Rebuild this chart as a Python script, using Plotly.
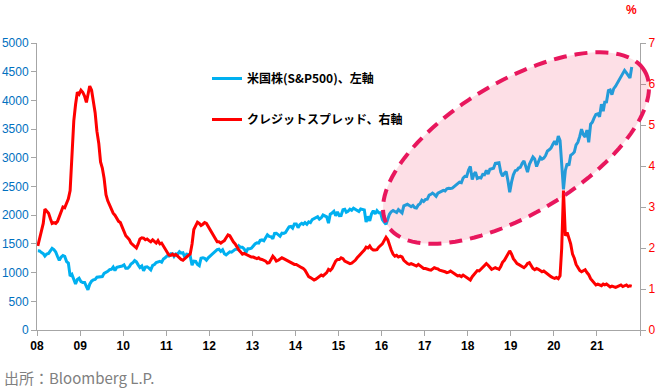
import datetime as dt
import numpy as np
import plotly.graph_objects as go

# ---------------- data (semi-monthly readings, 2008-01 .. 2021-10) ----------------
sp500_2008 = [1380, 1378, 1349, 1331, 1288, 1323, 1334, 1386, 1423, 1400, 1360, 1280,
              1214, 1267, 1298, 1283, 1193, 1166, 940, 969, 880, 800, 880, 903]
sp500_2009 = [843, 826, 827, 745, 700, 798, 852, 873, 882, 919, 923, 919,
              932, 987, 1004, 1021, 1052, 1057, 1096, 1036, 1093, 1096, 1107, 1115]
sp500_2010 = [1136, 1074, 1075, 1104, 1150, 1169, 1211, 1187, 1135, 1089, 1115, 1031,
              1096, 1102, 1079, 1049, 1126, 1141, 1176, 1183, 1197, 1181, 1236, 1258]
sp500_2011 = [1293, 1286, 1328, 1327, 1281, 1326, 1320, 1364, 1338, 1345, 1265, 1321,
              1316, 1292, 1130, 1200, 1195, 1140, 1120, 1250, 1258, 1247, 1216, 1258]
sp500_2012 = [1289, 1312, 1344, 1366, 1402, 1408, 1370, 1398, 1330, 1310, 1343, 1362,
              1356, 1379, 1405, 1407, 1466, 1441, 1440, 1412, 1353, 1416, 1414, 1426]
sp500_2013 = [1472, 1498, 1520, 1515, 1561, 1569, 1553, 1598, 1658, 1631, 1626, 1590,
              1682, 1686, 1661, 1633, 1688, 1682, 1698, 1757, 1798, 1806, 1775, 1848]
sp500_2014 = [1848, 1783, 1838, 1859, 1841, 1872, 1842, 1884, 1870, 1924, 1937, 1960,
              1973, 1931, 1955, 2003, 1984, 1972, 1862, 2018, 2039, 2068, 1990, 2059]
sp500_2015 = [1992, 1995, 2097, 2105, 2053, 2068, 2106, 2086, 2123, 2107, 2084, 2063,
              2108, 2104, 2092, 1880, 1979, 1900, 2024, 2079, 2023, 2080, 2043, 2044]
sp500_2016 = [1922, 1880, 1840, 1932, 2016, 2060, 2081, 2065, 2047, 2097, 2072, 2040,
              2162, 2174, 2190, 2171, 2147, 2168, 2133, 2126, 2180, 2199, 2262, 2239]
sp500_2017 = [2275, 2279, 2349, 2364, 2385, 2363, 2329, 2384, 2402, 2412, 2433, 2423,
              2459, 2470, 2464, 2472, 2500, 2519, 2553, 2575, 2565, 2648, 2676, 2674]
sp500_2018 = [2786, 2850, 2620, 2714, 2748, 2641, 2656, 2648, 2711, 2705, 2780, 2718,
              2801, 2816, 2819, 2902, 2905, 2914, 2750, 2680, 2730, 2760, 2600, 2400]
sp500_2019 = [2580, 2704, 2776, 2784, 2822, 2834, 2905, 2946, 2850, 2752, 2887, 2942,
              3014, 2980, 2848, 2926, 3007, 2977, 2996, 3038, 3120, 3141, 3169, 3231]
sp500_2020 = [3289, 3226, 3380, 3300, 2800, 2450, 2780, 2900, 2864, 3044, 3067, 3100,
              3227, 3271, 3373, 3500, 3401, 3363, 3483, 3270, 3585, 3622, 3695, 3756]
sp500_2021 = [3768, 3714, 3934, 3811, 3969, 3973, 4170, 4181, 4100, 4204, 4246, 4298,
              4360, 4395, 4468, 4523, 4480, 4440, 4390, 4580]

spread_2008 = [2.05, 2.25, 2.45, 2.6, 2.95, 2.9, 2.85, 2.72, 2.6, 2.62, 2.6, 2.65,
               2.78, 2.9, 3.0, 2.98, 3.1, 3.2, 3.4, 4.4, 5.1, 5.5, 5.8, 5.75]
spread_2009 = [5.85, 5.8, 5.7, 5.55, 5.75, 5.95, 5.85, 5.6, 5.3, 4.85, 4.55, 4.1,
               3.95, 3.7, 3.3, 3.15, 3.05, 2.93, 2.85, 2.8, 2.72, 2.65, 2.62, 2.5]
spread_2010 = [2.4, 2.3, 2.25, 2.2, 2.12, 2.08, 2.02, 2.0, 2.1, 2.22, 2.25, 2.24,
               2.2, 2.22, 2.18, 2.15, 2.2, 2.15, 2.12, 2.18, 2.1, 2.12, 2.05, 1.95]
spread_2011 = [1.88, 1.83, 1.82, 1.85, 1.82, 1.84, 1.8, 1.75, 1.72, 1.7, 1.75, 1.8,
               1.82, 1.85, 2.1, 2.45, 2.55, 2.63, 2.6, 2.55, 2.58, 2.62, 2.6, 2.52]
spread_2012 = [2.45, 2.38, 2.3, 2.22, 2.15, 2.15, 2.12, 2.15, 2.18, 2.25, 2.32, 2.3,
               2.22, 2.15, 2.1, 2.02, 1.95, 1.9, 1.85, 1.87, 1.85, 1.82, 1.8, 1.78]
spread_2013 = [1.78, 1.76, 1.74, 1.76, 1.73, 1.72, 1.7, 1.68, 1.63, 1.64, 1.72, 1.8,
               1.75, 1.68, 1.7, 1.72, 1.76, 1.74, 1.72, 1.7, 1.68, 1.66, 1.63, 1.6]
spread_2014 = [1.6, 1.58, 1.55, 1.52, 1.5, 1.46, 1.38, 1.3, 1.28, 1.25, 1.22, 1.24,
               1.28, 1.3, 1.34, 1.32, 1.36, 1.4, 1.48, 1.45, 1.5, 1.58, 1.68, 1.72]
spread_2015 = [1.72, 1.76, 1.74, 1.68, 1.66, 1.64, 1.62, 1.63, 1.66, 1.7, 1.76, 1.8,
               1.84, 1.9, 1.95, 2.02, 2.0, 2.05, 1.98, 1.95, 1.95, 1.96, 2.02, 2.05]
spread_2016 = [2.1, 2.18, 2.26, 2.2, 2.05, 1.95, 1.85, 1.8, 1.82, 1.78, 1.8, 1.78,
               1.7, 1.65, 1.62, 1.6, 1.62, 1.6, 1.58, 1.56, 1.6, 1.56, 1.52, 1.5]
spread_2017 = [1.5, 1.48, 1.47, 1.46, 1.5, 1.52, 1.5, 1.49, 1.46, 1.45, 1.44, 1.42,
               1.4, 1.41, 1.44, 1.4, 1.38, 1.35, 1.32, 1.33, 1.3, 1.34, 1.31, 1.28]
spread_2018 = [1.24, 1.22, 1.3, 1.36, 1.4, 1.45, 1.44, 1.48, 1.52, 1.56, 1.62, 1.58,
               1.52, 1.48, 1.5, 1.52, 1.5, 1.48, 1.55, 1.65, 1.7, 1.78, 1.85, 1.93]
spread_2019 = [1.85, 1.74, 1.68, 1.62, 1.6, 1.58, 1.55, 1.52, 1.56, 1.62, 1.64, 1.56,
               1.5, 1.47, 1.5, 1.48, 1.44, 1.42, 1.44, 1.4, 1.36, 1.34, 1.3, 1.28]
spread_2020 = [1.26, 1.28, 1.25, 1.32, 2.0, 3.4, 2.3, 2.38, 2.25, 2.1, 1.85, 1.75,
               1.6, 1.52, 1.45, 1.42, 1.45, 1.47, 1.4, 1.35, 1.25, 1.2, 1.14, 1.1]
spread_2021 = [1.12, 1.1, 1.08, 1.12, 1.1, 1.12, 1.08, 1.05, 1.07, 1.05, 1.04, 1.06,
               1.08, 1.1, 1.06, 1.08, 1.1, 1.06, 1.08, 1.07]

x_tick_labels = ["08", "09", "10", "11", "12", "13", "14", "15", "16", "17", "18", "19", "20", "21", ""]
series_names = ["米国株(S&P500)、左軸", "クレジットスプレッド、右軸"]
source_text = "出所：Bloomberg L.P."

sp500 = (sp500_2008 + sp500_2009 + sp500_2010 + sp500_2011 + sp500_2012 + sp500_2013 +
         sp500_2014 + sp500_2015 + sp500_2016 + sp500_2017 + sp500_2018 + sp500_2019 +
         sp500_2020 + sp500_2021)
spread = (spread_2008 + spread_2009 + spread_2010 + spread_2011 + spread_2012 + spread_2013 +
          spread_2014 + spread_2015 + spread_2016 + spread_2017 + spread_2018 + spread_2019 +
          spread_2020 + spread_2021)

dates = []
for y in range(2008, 2022):
    for m in range(1, 13):
        for d in (8, 23):
            dates.append(dt.date(y, m, d))
dates = dates[:len(sp500)]

# ---------------- layout geometry ----------------
W, H = 660, 390
L, R, T, B = 37, 20, 43, 60
PW, PH = W - L - R, H - T - B

def to_paper(px, py):
    return (px - L) / PW, (H - B - py) / PH

# highlight ellipse (pixel geometry)
cx, cy, ea, eb, ang = 516, 148, 150, 66, np.deg2rad(31)
tt = np.linspace(0, 2 * np.pi, 121)
ex = cx + ea * np.cos(tt) * np.cos(ang) - eb * np.sin(tt) * np.sin(ang)
ey = cy - (ea * np.cos(tt) * np.sin(ang) + eb * np.sin(tt) * np.cos(ang))
pts = [to_paper(a, b) for a, b in zip(ex, ey)]
path = "M " + " L ".join(f"{p[0]:.5f},{p[1]:.5f}" for p in pts) + " Z"

FONT = "Liberation Sans Narrow, Liberation Sans, Arial, sans-serif"
JP = "Noto Sans CJK JP, sans-serif"

fig = go.Figure()
fig.add_trace(go.Scatter(x=dates, y=sp500, mode="lines", name=series_names[0],
                         line=dict(color="#00B0F0", width=3), legendgroup="a"))
fig.add_trace(go.Scatter(x=dates, y=spread, mode="lines", name=series_names[1],
                         line=dict(color="#FF0000", width=3), yaxis="y2", legendgroup="b"))

tickvals = [dt.date(y, 1, 1) for y in range(2008, 2023)]

fig.update_layout(
    width=W, height=H,
    margin=dict(l=L, r=R, t=T, b=B, autoexpand=False),
    paper_bgcolor="white", plot_bgcolor="white",
    showlegend=True,
    legend=dict(x=(207 - L) / PW, y=to_paper(0, 64)[1], xanchor="left", yanchor="top",
                bgcolor="rgba(0,0,0,0)", font=dict(family=JP, size=12, color="black", weight="bold"),
                tracegroupgap=22, itemwidth=30),
    xaxis=dict(type="date", range=[dt.date(2008, 1, 1), dt.date(2022, 1, 1)],
               tickmode="array", tickvals=tickvals, ticktext=x_tick_labels,
               ticks="outside", ticklen=5, tickcolor="#A6A6A6", automargin=False,
               showline=True, linecolor="#A6A6A6", linewidth=1, showgrid=False, zeroline=False,
               tickfont=dict(family=FONT, size=12, color="black", weight="bold")),
    yaxis=dict(range=[0, 5000], dtick=500, ticks="outside", ticklen=5, tickcolor="#A6A6A6",
               automargin=False,
               showline=True, linecolor="#A6A6A6", linewidth=1, showgrid=False, zeroline=False,
               tickfont=dict(family=FONT, size=12, color="#0070C0")),
    yaxis2=dict(range=[0, 7], dtick=1, overlaying="y", side="right", ticks="outside", ticklen=5,
                tickcolor="#A6A6A6", showline=True, linecolor="#A6A6A6", linewidth=1,
                showgrid=False, zeroline=False, automargin=False,
                tickfont=dict(family=FONT, size=12, color="#FF0000")),
    shapes=[dict(type="path", path=path, xref="paper", yref="paper", layer="above",
                 fillcolor="rgba(240,40,90,0.15)",
                 line=dict(color="#E8175D", width=4, dash="13px,8px"))],
    annotations=[
        dict(text="%", xref="paper", yref="paper", x=to_paper(631, 0)[0], y=to_paper(0, 10)[1],
             showarrow=False, xanchor="center", yanchor="middle",
             font=dict(family=FONT, size=12, color="#FF0000", weight="bold")),
        dict(text=source_text, xref="paper", yref="paper", x=to_paper(2, 0)[0], y=to_paper(0, 377)[1],
             showarrow=False, xanchor="left", yanchor="middle",
             font=dict(family=JP, size=15, color="#808080")),
    ],
)

fig.write_html("out.html", config={"displayModeBar": False},
               post_script="document.body.style.margin='0';document.body.style.overflow='hidden';")
